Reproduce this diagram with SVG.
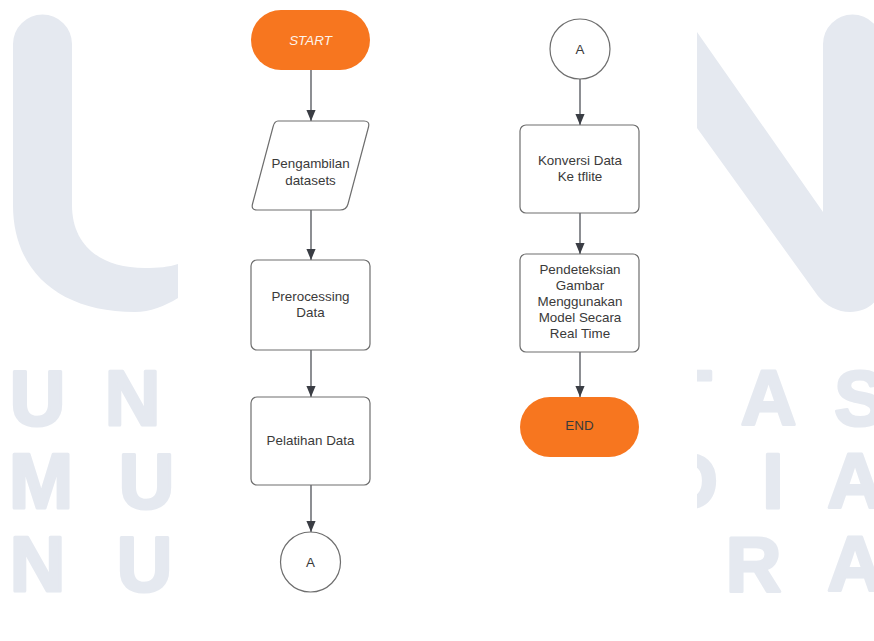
<svg xmlns="http://www.w3.org/2000/svg" width="874" height="641" viewBox="0 0 874 641">
<defs>
<style>
.wm{fill:#e5e9f0;}
.wmt{fill:#e5e9f0;stroke:#e5e9f0;stroke-width:3;stroke-linejoin:round;font-family:"Liberation Sans",Arial,sans-serif;font-weight:bold;font-size:77px;text-anchor:middle;}
.box{fill:#ffffff;stroke:#6e6e6e;stroke-width:1.2;}
.term{fill:#f7761f;stroke:none;}
.lbl{font-family:"Liberation Sans",Arial,sans-serif;font-size:13.4px;fill:#3a3a3a;text-anchor:middle;}
.conn{stroke:#40434a;stroke-width:1.2;fill:none;marker-end:url(#arr);}
</style>
<marker id="arr" viewBox="0 0 12 10" refX="12" refY="5" markerWidth="11" markerHeight="10" markerUnits="userSpaceOnUse" orient="auto">
<path d="M0,0 L12,5 L0,10 Z" fill="#3a3d44"/>
</marker>
</defs>
<rect x="0" y="0" width="874" height="641" fill="#ffffff"/>
<g id="watermark">
<path class="wm" d="M13,44 A29.5,29.5 0 0 1 72,44 L72,205 C72,245 100,268 145,268 C158,268 169,267 178,264 L178,298 C165,306 150,312 135,312 C60,312 13,272 13,205 Z"/>
<path class="wm" d="M697,32 L823,212 L823,44 A29.5,29.5 0 0 1 882,44 L882,282 C882,300 868,312 850,312 C838,312 826,306 818,296 L697,128 Z"/>
<text class="wmt" x="37.5" y="425">U</text>
<text class="wmt" x="132.5" y="425">N</text>
<text class="wmt" x="688" y="425">T</text>
<text class="wmt" x="768.5" y="425">A</text>
<text class="wmt" x="860" y="425">S</text>
<text class="wmt" x="41" y="508">M</text>
<text class="wmt" x="146.5" y="508">U</text>
<text class="wmt" x="690" y="508">D</text>
<text class="wmt" x="773" y="508">I</text>
<text class="wmt" x="855" y="508">A</text>
<text class="wmt" x="37.5" y="591">N</text>
<text class="wmt" x="144.5" y="591">U</text>
<text class="wmt" x="753.5" y="591">R</text>
<text class="wmt" x="855" y="591">A</text>
<rect x="178" y="0" width="519" height="641" fill="#ffffff"/>
</g>
<g id="connectors">
<line class="conn" x1="311" y1="70" x2="311" y2="121"/>
<line class="conn" x1="311" y1="210" x2="311" y2="260"/>
<line class="conn" x1="311" y1="350" x2="311" y2="397"/>
<line class="conn" x1="311" y1="485" x2="311" y2="532"/>
<line class="conn" x1="580" y1="79" x2="580" y2="125"/>
<line class="conn" x1="580" y1="213" x2="580" y2="254"/>
<line class="conn" x1="580" y1="352" x2="580" y2="397"/>
</g>
<g id="start">
<rect class="term" x="251" y="10" width="119" height="60" rx="30" ry="30"/>
<text x="310.5" y="45" font-family="Liberation Sans, Arial, sans-serif" font-size="13.4" font-style="italic" fill="#fdf3ea" text-anchor="middle">START</text>
</g>
<g id="pengambilan">
<path class="box" d="M278,121 L364,121 Q370,121 368.5,127 L348,204 Q346.5,210 340,210 L257,210 Q251,210 252.5,204 L273,127 Q274.5,121 278,121 Z"/>
<text class="lbl" x="310.5" y="168">Pengambilan</text>
<text class="lbl" x="310.5" y="185">datasets</text>
</g>
<g id="prerocessing">
<rect class="box" x="251" y="260" width="119" height="90" rx="6" ry="6"/>
<text class="lbl" x="310.5" y="301">Prerocessing</text>
<text class="lbl" x="310.5" y="317">Data</text>
</g>
<g id="pelatihan">
<rect class="box" x="251" y="397" width="119" height="88" rx="6" ry="6"/>
<text class="lbl" x="310.5" y="445">Pelatihan Data</text>
</g>
<g id="connector-a-out">
<circle class="box" cx="310.5" cy="562" r="30"/>
<text class="lbl" x="310.5" y="567">A</text>
</g>
<g id="connector-a-in">
<circle class="box" cx="580" cy="49" r="30"/>
<text class="lbl" x="580" y="54">A</text>
</g>
<g id="konversi">
<rect class="box" x="520" y="125" width="119" height="88" rx="6" ry="6"/>
<text class="lbl" x="580" y="165">Konversi Data</text>
<text class="lbl" x="580" y="181">Ke tflite</text>
</g>
<g id="pendeteksian">
<rect class="box" x="520" y="254" width="119" height="98" rx="6" ry="6"/>
<text class="lbl" x="580" y="274">Pendeteksian</text>
<text class="lbl" x="580" y="290">Gambar</text>
<text class="lbl" x="580" y="306">Menggunakan</text>
<text class="lbl" x="580" y="322">Model Secara</text>
<text class="lbl" x="580" y="338">Real Time</text>
</g>
<g id="end">
<rect class="term" x="520" y="397" width="119" height="60" rx="30" ry="30"/>
<text class="lbl" x="579.5" y="430" fill="#3b2e26">END</text>
</g>
</svg>
